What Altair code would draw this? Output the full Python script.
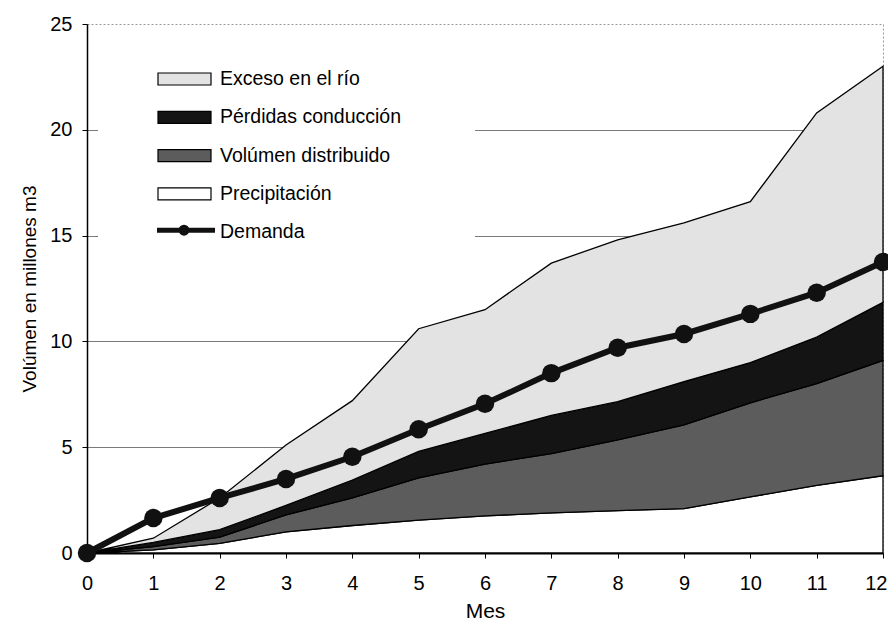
import altair as alt
import pandas as pd

# ---- data ----
meses = list(range(13))
precipitacion = [0, 0.15, 0.45, 1.0, 1.3, 1.55, 1.75, 1.9, 2.0, 2.1, 2.65, 3.2, 3.65]
volumen_distribuido = [0, 0.15, 0.30, 0.80, 1.30, 2.00, 2.45, 2.80, 3.35, 3.95, 4.45, 4.80, 5.45]
perdidas_conduccion = [0, 0.20, 0.35, 0.45, 0.85, 1.25, 1.45, 1.80, 1.80, 2.05, 1.90, 2.20, 2.75]
exceso_rio = [0, 0.20, 1.50, 2.85, 3.75, 5.80, 5.85, 7.20, 7.65, 7.50, 7.60, 10.60, 11.15]
demanda = [0, 1.65, 2.6, 3.5, 4.55, 5.85, 7.05, 8.5, 9.7, 10.35, 11.3, 12.3, 13.75]

series_names = ["Precipitación", "Volúmen distribuido", "Pérdidas conducción", "Exceso en el río"]
series_colors = ["#ffffff", "#5c5c5c", "#141414", "#e3e3e3"]
legend_labels = ["Exceso en el río", "Pérdidas conducción", "Volúmen distribuido", "Precipitación", "Demanda"]
y_ticks = [0, 5, 10, 15, 20, 25]

FONT = "Liberation Sans"

rows = []
for orden, (name, vals) in enumerate(zip(series_names,
                                          [precipitacion, volumen_distribuido, perdidas_conduccion, exceso_rio])):
    for m, v in zip(meses, vals):
        rows.append({"Mes": m, "serie": name, "orden": orden, "valor": v})
df = pd.DataFrame(rows)
dem = pd.DataFrame({"Mes": meses, "Demanda": demanda})

W, H = 796, 529
YTITLE = "Volúmen en millones m3"
last = meses[-1]

x_enc = alt.X("Mes:Q", scale=alt.Scale(domain=[0, 12], nice=False),
              axis=alt.Axis(values=meses, title="Mes", format="d", labelAngle=0, tickSize=5,
                            labelFlush=False,
                            labelAlign={"condition": {"test": f"datum.value === {last}", "value": "right"},
                                        "value": "center"},
                            labelOffset={"condition": {"test": f"datum.value === {last}", "value": 4},
                                         "value": 0},
                            labelPadding=15, titlePadding=7, grid=False, domainWidth=2))
y_scale = alt.Scale(domain=[0, 25], nice=False)

areas = alt.Chart(df).mark_area(stroke="black", strokeWidth=1.3, interpolate="linear").encode(
    x=x_enc,
    y=alt.Y("valor:Q", stack="zero", scale=y_scale,
            axis=alt.Axis(values=y_ticks, title=YTITLE, tickSize=5, labelPadding=10, titlePadding=10,
                          labelFlush=False,
                          grid=True, gridColor="#7a7a7a", gridWidth=1,
                          gridOpacity={"condition": {"test": "datum.value === 25 || datum.value === 0", "value": 0},
                                       "value": 1},
                          domainWidth=1.5)),
    color=alt.Color("serie:N", scale=alt.Scale(domain=series_names, range=series_colors), legend=None),
    order=alt.Order("orden:Q", sort="ascending"),
)

line = alt.Chart(dem).mark_line(color="#111111", strokeWidth=6,
                                point=alt.OverlayMarkDef(size=340, filled=True, color="#111111", opacity=1)).encode(
    x=alt.X("Mes:Q"),
    y=alt.Y("Demanda:Q", scale=y_scale, title=YTITLE),
)

# ---- legend (drawn inside the plot) ----
box = alt.Chart(pd.DataFrame({"a": [0]})).mark_rect(fill="white", stroke=None).encode(
    x=alt.value(11), x2=alt.value(388), y=alt.value(25), y2=alt.value(228))

legend_layers = [box]
fills = {"Exceso en el río": "#e3e3e3", "Pérdidas conducción": "#141414",
         "Volúmen distribuido": "#5c5c5c", "Precipitación": "#ffffff"}
for i, lab in enumerate(legend_labels):
    base_y = 61 + 38.3 * i
    d = pd.DataFrame({"t": [lab]})
    if lab != "Demanda":
        legend_layers.append(alt.Chart(d).mark_rect(fill=fills[lab], stroke="black", strokeWidth=1.2).encode(
            x=alt.value(71), x2=alt.value(124), y=alt.value(base_y - 12), y2=alt.value(base_y)))
    else:
        legend_layers.append(alt.Chart(d).mark_rule(color="#111111", strokeWidth=5).encode(
            x=alt.value(70), x2=alt.value(128), y=alt.value(base_y - 8)))
        legend_layers.append(alt.Chart(d).mark_point(filled=True, color="#111111", size=120, opacity=1).encode(
            x=alt.value(97), y=alt.value(base_y - 8)))
    legend_layers.append(alt.Chart(d).mark_text(align="left", baseline="alphabetic", font=FONT,
                                                fontSize=19.5, color="black").encode(
        x=alt.value(133), y=alt.value(base_y), text="t:N"))

chart = alt.layer(areas, line, *legend_layers).properties(
    width=W, height=H,
    autosize=alt.AutoSizeParams(type="none"),
    padding={"left": 79, "top": 16, "right": 5, "bottom": 67},
).configure(font=FONT).configure_axis(
    labelFont=FONT, titleFont=FONT, labelFontSize=20, labelColor="black", tickColor="black",
    domainColor="black", titleColor="black", titleFontWeight="normal",
).configure_axisX(titleFontSize=21).configure_axisY(titleFontSize=19).configure_view(
    stroke="#9a9a9a", strokeDash=[2, 2], strokeWidth=1)

chart.save("out.html", embed_options={"renderer": "svg", "actions": False})
